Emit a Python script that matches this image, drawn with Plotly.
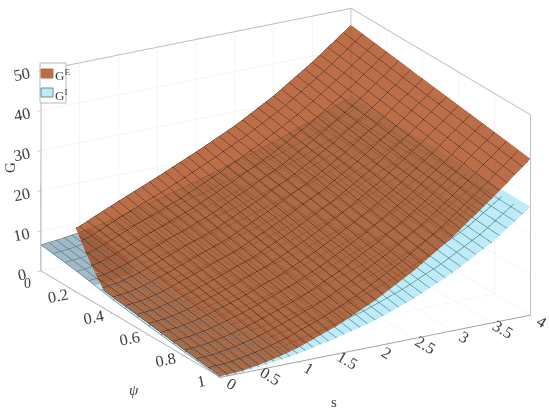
import numpy as np
import plotly.graph_objects as go

s_vals = [0, 0.25, 0.5, 0.75, 1, 1.5, 2, 2.5, 3, 3.5, 4]
psi_E = [0, 0.12, 0.24, 0.35, 0.5, 0.65, 0.8, 1]
cut_s = [0.45, 0.296, 0.141, 0, 0, 0, 0, 0]
G_E = [
    [8.9, 8.9, 9.2, 11.4, 13.5, 17.6, 21.9, 26.5, 32, 38.5, 45.8],
    [6.9, 6.9, 8.2, 10.3, 12.3, 16.0, 20.5, 25.4, 31, 37.6, 45],
    [5.4, 5.8, 7.3, 9.2, 11.1, 14.8, 19.3, 24.2, 30, 36.7, 44.2],
    [4.4, 5.0, 6.4, 8.1, 10, 13.6, 18.2, 23.2, 29, 35.9, 43.4],
    [3.5, 4, 5.2, 6.9, 8.5, 12.1, 16.7, 21.8, 27.8, 34.8, 42.4],
    [2.5, 3, 4, 5.5, 7, 10.6, 15, 20.3, 26.5, 33.6, 41.4],
    [1.5, 1.9, 2.8, 4, 5.5, 8.9, 13.5, 18.9, 25.2, 32.5, 40.4],
    [0.3, 0.5, 1.2, 2.2, 3.5, 7, 11.5, 17, 23.5, 31, 39],
]
psi_I = [0, 0.2, 0.4, 0.6, 0.8, 1]
G_I = [
    [6.5, 7, 7.7, 8.5, 9.5, 12, 14.5, 17.5, 20.5, 24, 28],
    [5.2, 5.7, 6.3, 7.1, 8.0, 10.4, 12.9, 16, 19.3, 23.2, 27.8],
    [3.5, 4.0, 4.9, 5.6, 6.5, 8.8, 11.3, 14.5, 18.1, 22.4, 27.6],
    [2.2, 2.6, 3.3, 4.1, 5, 7.2, 9.7, 13, 16.9, 21.6, 27.4],
    [1.0, 1.3, 2.0, 2.7, 3.5, 5.6, 8.1, 11.5, 15.7, 20.8, 27.2],
    [0, 0.2, 0.7, 1.3, 2, 4, 6.5, 10, 14.5, 20, 27],
]
# 0 = greyed patch of the G^I sheet near s=0, psi=0; 1 = plain
I_shade = [
    [0, 0, 0, 1, 1, 1, 1, 1, 1, 1, 1],
    [0, 0, 0, 1, 1, 1, 1, 1, 1, 1, 1],
    [1, 1, 1, 1, 1, 1, 1, 1, 1, 1, 1],
    [1, 1, 1, 1, 1, 1, 1, 1, 1, 1, 1],
    [1, 1, 1, 1, 1, 1, 1, 1, 1, 1, 1],
    [1, 1, 1, 1, 1, 1, 1, 1, 1, 1, 1],
]
s_ticks = [0, 0.5, 1, 1.5, 2, 2.5, 3, 3.5, 4]
psi_ticks = [0, 0.2, 0.4, 0.6, 0.8, 1]
z_ticks = [0, 10, 20, 30, 40, 50]
s_range = [0, 4]
psi_range = [1, 0]
z_range = [0, 50]

xE = np.maximum(np.tile(s_vals, (len(psi_E), 1)), np.array(cut_s)[:, None])
yE = np.tile(np.array(psi_E)[:, None], (1, len(s_vals)))

FONT = "Liberation Serif"
TXT = "#404040"
BLUE = "#BDEBF8"
GREY = "#A3BAC6"
BROWN = "#A94514"
BROWN_KEY = "#BC6E48"
BOX = "#b4b4b4"


def contours(sz_x, sz_y, color):
    return dict(
        x=dict(show=True, start=0, end=4, size=sz_x, color=color, width=1, highlight=False),
        y=dict(show=True, start=0, end=1, size=sz_y, color=color, width=1, highlight=False),
        z=dict(highlight=False),
    )


flat = dict(ambient=1, diffuse=0, specular=0, roughness=1, fresnel=0)

fig = go.Figure()

# back walls of the axes box, from the axis ranges
s0, s1 = s_range
p0, p1 = psi_range[1], psi_range[0]
z0, z1 = z_range
box_x = [s0, s0, s1, s1, s1, s1, s1, s1, s1, s0, s0]
box_y = [p0, p0, p0, p0, p0, p1, p1, p1, p0, p0, p0]
box_z = [z0, z1, z1, z0, z1, z1, z0, z1, z1, z1, z0]
fig.add_trace(go.Scatter3d(x=box_x, y=box_y, z=box_z, mode="lines",
                           line=dict(color=BOX, width=2), showlegend=False, hoverinfo="skip"))

fig.add_trace(go.Surface(
    x=s_vals, y=psi_I, z=G_I, surfacecolor=I_shade, cmin=0, cmax=1, name="GI",
    colorscale=[[0, GREY], [0.5, GREY], [0.5, BLUE], [1, BLUE]], showscale=False,
    opacity=1, lighting=flat, contours=contours(0.1, 0.0667, "#3f6a7a"), hoverinfo="skip",
))
fig.add_trace(go.Surface(
    x=xE, y=yE, z=G_E, name="GE",
    colorscale=[[0, BROWN], [1, BROWN]], showscale=False,
    opacity=0.78, lighting=flat, contours=contours(0.1, 0.0667, "#3a2418"), hoverinfo="skip",
))


def axis(ticks, rng):
    return dict(
        title=dict(text=""),
        tickvals=ticks, ticktext=[str(t) for t in ticks], range=rng, autorange=False,
        tickfont=dict(family=FONT, size=14, color=TXT),
        showgrid=True, gridcolor="#ececec", gridwidth=1,
        showline=True, linecolor="#a0a0a0", linewidth=2,
        ticks="outside", ticklen=4, tickcolor="#a0a0a0",
        showbackground=False, showspikes=False, zeroline=False,
    )


def px(x):
    return x / 550


def py(y):
    return 1 - y / 412


keys = [(69, 78, BROWN_KEY, "G<sup>E</sup>"), (88, 97, BLUE, "G<sup>I</sup>")]
shapes = [dict(type="rect", xref="paper", yref="paper", x0=px(40), x1=px(66), y0=py(103), y1=py(63),
               line=dict(color="#b8b8b8", width=1), fillcolor="white", layer="above")]
notes = []
for top, bot, col, lab in keys:
    shapes.append(dict(type="rect", xref="paper", yref="paper", x0=px(41), x1=px(53), y0=py(bot), y1=py(top),
                       line=dict(color="#6f8c99" if col == BLUE else col, width=1), fillcolor=col, layer="above"))
    notes.append(dict(text=lab, xref="paper", yref="paper", x=px(53), y=py((top + bot) / 2 + 2),
                      xanchor="left", yanchor="middle", showarrow=False,
                      font=dict(family=FONT, size=13, color=TXT)))

# axis titles and the psi origin label, placed where the reference has them
for text, x, y, ang, size in [("s", 334, 402, 0, 15), ("<i>ψ</i>", 134, 390, 0, 15),
                              ("G", 10, 168, -90, 15), ("0", 27, 283, 0, 14)]:
    notes.append(dict(text=text, xref="paper", yref="paper", x=px(x), y=py(y), textangle=ang,
                      xanchor="center", yanchor="middle", showarrow=False,
                      font=dict(family=FONT, size=size, color=TXT)))

cx, cy, cz = -0.045, 0.026, -0.068
fig.update_layout(
    width=550, height=412, paper_bgcolor="white",
    margin=dict(l=0, r=0, t=0, b=0),
    font=dict(family=FONT, color=TXT),
    showlegend=False, shapes=shapes, annotations=notes,
    scene=dict(
        domain=dict(x=[0, 1], y=[0, 1]),
        xaxis=axis(s_ticks, s_range),
        yaxis=axis(psi_ticks, psi_range),
        zaxis=axis(z_ticks, z_range),
        aspectmode="manual",
        aspectratio=dict(x=1.742, y=1.733, z=1.036),
        camera=dict(projection=dict(type="orthographic"),
                    center=dict(x=cx, y=cy, z=cz),
                    eye=dict(x=-0.82 + cx, y=-1.41 + cy, z=0.60 + cz),
                    up=dict(x=0, y=0, z=1)),
    ),
)
fig.write_html("out.html", post_script="document.body.style.margin='0';",
               config=dict(displayModeBar=False))
